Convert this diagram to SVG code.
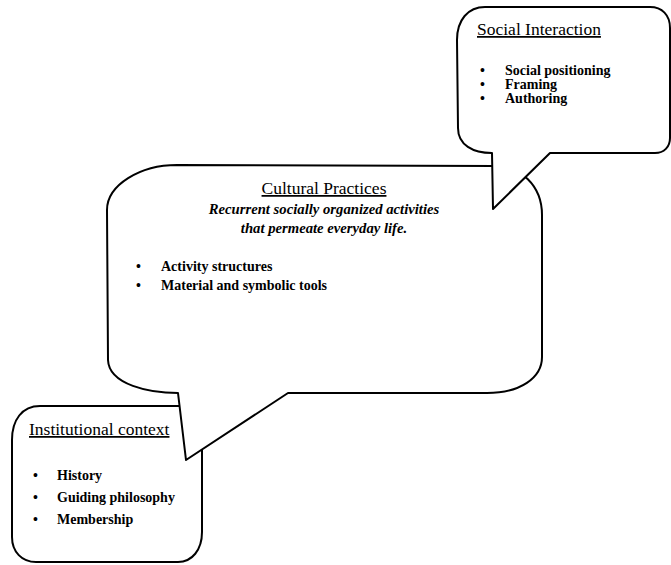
<svg xmlns="http://www.w3.org/2000/svg" width="671" height="565" viewBox="0 0 671 565">
<style>
.b{fill:#fff;stroke:#000;stroke-width:2;stroke-linejoin:round}
.t{font-family:"Liberation Serif","Times New Roman",serif;fill:#000}
.h{font-size:17.5px;text-decoration:underline}
.i{font-size:14.7px;font-style:italic;font-weight:bold}
.l{font-size:14px;font-weight:bold}
</style>
<rect width="671" height="565" fill="#fff"/>
<g id="institutional">
<path class="b" d="M40,406 L202,406 L202,532 C202,550 192,562 178,562 L36,562 C22,562 12,552 12,537 L12,440 C12,420 22,406 40,406 Z"/>
<text class="t h" x="29" y="435">Institutional context</text>
<text class="t l" x="33" y="480">•</text><text class="t l" x="57" y="480">History</text>
<text class="t l" x="33" y="502">•</text><text class="t l" x="57" y="502">Guiding philosophy</text>
<text class="t l" x="33" y="524">•</text><text class="t l" x="57" y="524">Membership</text>
</g>
<g id="cultural">
<path class="b" d="M177,165 L495,166 C520,166 542,185 542,215 L542,357 C542,378 520,393 487,393 L288,393 L186,460 L178,393 C150,393 109,385 108,360 L107,210 C107,185 140,165 177,165 Z"/>
<text class="t h" x="324" y="194" text-anchor="middle">Cultural Practices</text>
<text class="t i" x="324" y="214" text-anchor="middle">Recurrent socially organized activities</text>
<text class="t i" x="324" y="233" text-anchor="middle">that permeate everyday life.</text>
<text class="t l" x="136" y="271">•</text><text class="t l" x="161" y="271">Activity structures</text>
<text class="t l" x="136" y="290">•</text><text class="t l" x="161" y="290">Material and symbolic tools</text>
</g>
<g id="social">
<path class="b" d="M485,7 L650,7 C662,7 670,15 670,28 L670,138 C670,147 664,153 655,153 L550,153 L493,209 L492,153 C473,153 458,145 458,128 L457,40 C457,20 468,7 485,7 Z"/>
<text class="t h" x="477" y="35">Social Interaction</text>
<text class="t l" x="480" y="75">•</text><text class="t l" x="505" y="75">Social positioning</text>
<text class="t l" x="480" y="89">•</text><text class="t l" x="505" y="89">Framing</text>
<text class="t l" x="480" y="103">•</text><text class="t l" x="505" y="103">Authoring</text>
</g>
<g id="connectors"/>
</svg>
